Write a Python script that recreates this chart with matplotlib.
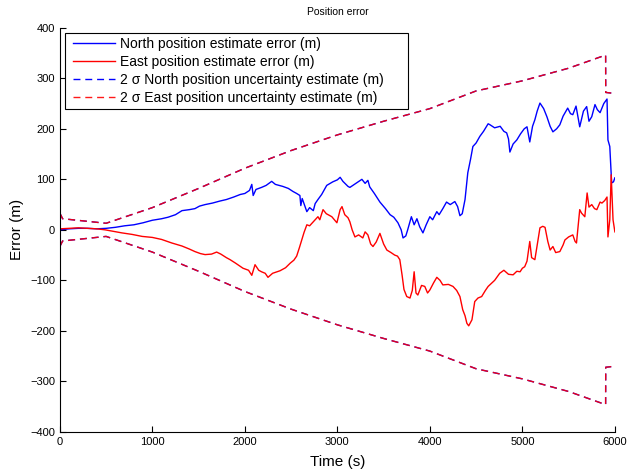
import numpy as np
import matplotlib
matplotlib.use('Agg')
import matplotlib.pyplot as plt
from matplotlib.lines import Line2D
from matplotlib.legend_handler import HandlerLine2D

plt.rcParams['font.family'] = ['Liberation Sans', 'DejaVu Sans']

# north position error (m)
t_north = [0, 100, 200, 300, 400, 500, 600, 700, 800, 900, 1000, 1100, 1170, 1250, 1320, 1400,
           1460, 1510, 1570, 1650, 1730, 1800, 1880, 1950, 2000, 2050, 2075, 2090, 2120, 2180,
           2230, 2290, 2330, 2410, 2470, 2520, 2560, 2595, 2605, 2620, 2670, 2700, 2740, 2760,
           2790, 2830, 2885, 2950, 3000, 3030, 3060, 3115, 3135, 3200, 3265, 3300, 3330, 3350,
           3400, 3460, 3520, 3570, 3610, 3655, 3690, 3710, 3740, 3760, 3800, 3830, 3860, 3890,
           3925, 3960, 4000, 4030, 4075, 4100, 4140, 4180, 4220, 4270, 4300, 4325, 4350, 4380,
           4410, 4440, 4465, 4500, 4540, 4580, 4630, 4650, 4700, 4760, 4800, 4830, 4850, 4865,
           4900, 4940, 4980, 5020, 5050, 5080, 5110, 5135, 5160, 5190, 5230, 5265, 5300, 5330,
           5370, 5405, 5440, 5490, 5520, 5545, 5580, 5620, 5660, 5695, 5720, 5750, 5785, 5810,
           5840, 5880, 5915, 5925, 5945, 5965, 5985, 6000]
north_err = [0, 2, 3, 3, 2, 3, 5, 8, 10, 14, 19, 22, 25, 30, 38, 40,
             42, 47, 50, 53, 57, 60, 65, 70, 72, 78, 90, 68, 80, 84,
             88, 96, 90, 86, 82, 76, 72, 68, 48, 62, 36, 44, 38, 52,
             60, 70, 88, 95, 99, 104, 96, 86, 84, 92, 100, 92, 98, 85,
             72, 55, 42, 30, 25, 14, 0, -16, -12, 0, 26, 10, 22, 6,
             -6, 10, 26, 20, 36, 30, 42, 55, 50, 56, 46, 28, 32, 60,
             113, 140, 165, 172, 185, 195, 210, 208, 202, 205, 195, 192, 180, 154,
             170, 178, 190, 200, 204, 174, 205, 218, 235, 251, 240, 224, 205, 194,
             200, 208, 225, 241, 230, 228, 245, 204, 235, 244, 215, 224, 248, 238,
             232, 250, 259, 178, 165, 93, 95, 103]

# east position error (m)
t_east = [0, 100, 200, 300, 400, 490, 580, 670, 780, 890, 1000, 1100, 1210, 1320, 1400, 1460,
          1520, 1570, 1640, 1695, 1740, 1800, 1840, 1900, 1980, 2040, 2075, 2110, 2150, 2180,
          2220, 2250, 2300, 2380, 2440, 2490, 2530, 2560, 2590, 2615, 2640, 2670, 2700, 2740,
          2790, 2810, 2845, 2880, 2940, 2995, 3030, 3050, 3080, 3115, 3135, 3160, 3190, 3230,
          3275, 3300, 3330, 3360, 3385, 3420, 3460, 3500, 3535, 3580, 3620, 3650, 3675, 3700,
          3720, 3750, 3785, 3810, 3830, 3850, 3870, 3910, 3945, 3975, 4000, 4040, 4075, 4110,
          4140, 4200, 4250, 4290, 4325, 4355, 4380, 4400, 4420, 4455, 4485, 4520, 4560, 4600,
          4630, 4700, 4755, 4800, 4850, 4900, 4940, 4975, 5000, 5025, 5050, 5080, 5100, 5135,
          5160, 5190, 5220, 5245, 5275, 5300, 5330, 5360, 5405, 5440, 5460, 5500, 5545, 5570,
          5585, 5620, 5640, 5675, 5700, 5720, 5750, 5780, 5805, 5840, 5860, 5890, 5915, 5925,
          5945, 5960, 5980, 6000]
east_err = [2, 3, 4, 3, 2, 0, -3, -6, -9, -13, -15, -19, -26, -32, -38, -43,
            -47, -49, -48, -44, -48, -55, -59, -66, -76, -80, -90, -69, -80, -83,
            -86, -94, -86, -81, -75, -66, -60, -52, -35, -20, -5, 10, 8, 16,
            26, 20, 40, 32, 26, 14, 40, 46, 30, 24, 16, 0, -14, -10,
            -16, -4, -10, -28, -33, -24, -7, -28, -40, -45, -50, -52, -59, -90,
            -118, -132, -135, -120, -83, -125, -129, -110, -112, -125, -119, -105, -94, -100,
            -109, -108, -112, -120, -132, -158, -170, -185, -190, -178, -142, -135, -132, -120,
            -112, -100, -86, -80, -88, -89, -82, -83, -76, -73, -62, -23, -55, -59,
            -30, 4, 7, 5, -23, -40, -33, -45, -43, -30, -20, -14, -10, -23,
            -26, 40, 33, 26, 73, 45, 50, 42, 40, 55, 53, 58, 65, -14,
            20, 109, 20, -4]

# 2 sigma uncertainty (m)
t_sigma = [0, 30, 500, 1000, 1500, 2000, 2500, 3000, 3500, 4000, 4400, 4500, 5000, 5500, 5900, 5901, 6000]
two_sigma_north = [33, 22, 13, 44, 82, 122, 157, 188, 215, 240, 268, 275, 295, 320, 346, 272, 270]
two_sigma_east = [33, 22, 13, 44, 82, 122, 157, 188, 215, 240, 268, 275, 295, 320, 346, 272, 270]

fig = plt.figure(figsize=(6.3, 4.71), dpi=100)
ax = fig.add_axes([0.095, 0.083, 0.881, 0.858])

dash = (0, (5, 3.5))
ln1, = ax.plot(t_north, north_err, color='blue', lw=1.0)
ln2, = ax.plot(t_east, east_err, color='red', lw=1.0)
sn = np.array(two_sigma_north)
se = np.array(two_sigma_east)
ln3, = ax.plot(t_sigma, sn, color='blue', lw=1.0, ls=dash)
ax.plot(t_sigma, -sn, color='blue', lw=1.0, ls=dash)
ln4, = ax.plot(t_sigma, se, color='red', lw=1.0, ls=dash, alpha=0.9)
ax.plot(t_sigma, -se, color='red', lw=1.0, ls=dash, alpha=0.9)

ax.set_xlim(0, 6000)
ax.set_ylim(-400, 400)
ax.set_xticks(range(0, 6001, 1000))
ax.set_yticks(range(-400, 401, 100))
ax.tick_params(direction='in', labelsize=8, length=4, width=0.8)
ax.spines['top'].set_visible(False)
ax.spines['right'].set_visible(False)

ax.set_xlabel('Time (s)', fontsize=11, labelpad=6)
ax.set_ylabel('Error (m)', fontsize=11, labelpad=4)
ax.set_title('Position error', fontsize=7.5, pad=9)

leg = ax.legend([ln1, ln2, ln3, ln4],
                ['North position estimate error (m)', 'East position estimate error (m)',
                 '2 σ North position uncertainty estimate (m)', '2 σ East position uncertainty estimate (m)'],
                loc='upper left', bbox_to_anchor=(0.009, 0.5, 0.618, 0.488), mode='expand',
                fontsize=10, fancybox=False, framealpha=1,
                borderaxespad=0, handlelength=3.3, labelspacing=0.3, borderpad=0.3,
                handletextpad=0.36, handler_map={Line2D: HandlerLine2D(xpad=0.28)})
leg.get_frame().set_edgecolor('black')
leg.get_frame().set_linewidth(0.8)

fig.savefig('out.png', dpi=100)
